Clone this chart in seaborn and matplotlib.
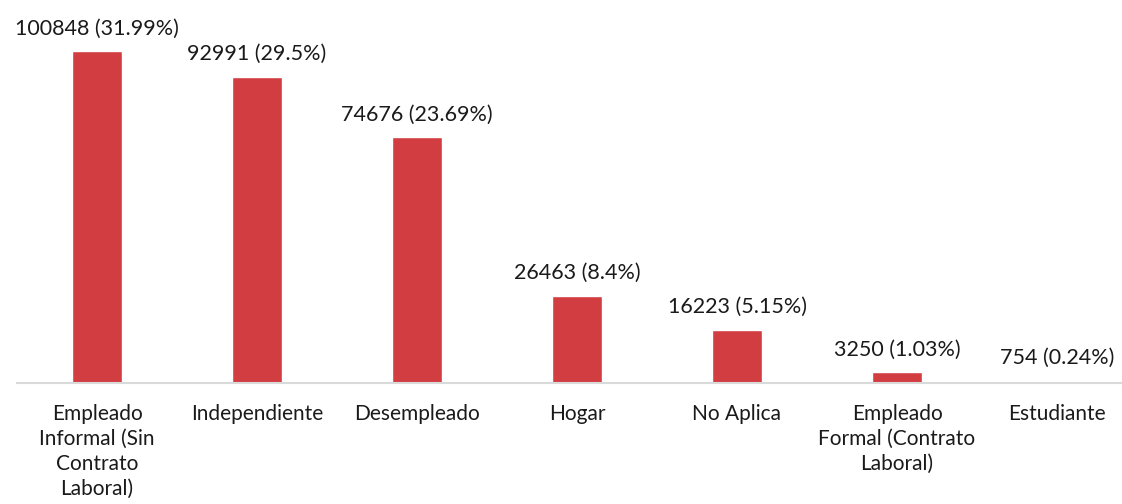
import matplotlib
matplotlib.use("Agg")
import pandas as pd
import seaborn as sns
import matplotlib.pyplot as plt

# ---------------------------------------------------------------------
# Data
# ---------------------------------------------------------------------
categorias = [
    "Empleado\nInformal (Sin\nContrato\nLaboral)",
    "Independiente",
    "Desempleado",
    "Hogar",
    "No Aplica",
    "Empleado\nFormal (Contrato\nLaboral)",
    "Estudiante",
]
conteos = [100848, 92991, 74676, 26463, 16223, 3250, 754]
porcentajes = ["31.99%", "29.5%", "23.69%", "8.4%", "5.15%", "1.03%", "0.24%"]

df = pd.DataFrame({"categoria": categorias, "conteo": conteos})

# ---------------------------------------------------------------------
# Plot
# ---------------------------------------------------------------------
sns.set_theme(style="white")
plt.rcParams["font.family"] = ["Lato", "DejaVu Sans"]

fig = plt.figure(figsize=(11.22, 5.04), dpi=100)
ax = fig.add_axes([17 / 1122, 121 / 504, 1120 / 1122, 383 / 504])

sns.barplot(data=df, x="categoria", y="conteo", color="#D13D40",
            saturation=1, width=0.31, ax=ax)

etiquetas = [f"{c} ({p})" for c, p in zip(conteos, porcentajes)]
ax.bar_label(ax.containers[0], labels=etiquetas, padding=9,
             fontsize=15.5, color="#1a1a1a")

ax.set_xlim(-0.5, 6.5)
ax.set_ylim(0, 116300)
ax.set_xlabel("")
ax.set_ylabel("")
ax.set_yticks([])
ax.tick_params(axis="x", length=0, pad=15, labelsize=15, labelcolor="#1a1a1a")
for lbl in ax.get_xticklabels():
    lbl.set_linespacing(1.32)

for s in ["top", "right", "left"]:
    ax.spines[s].set_visible(False)
ax.spines["bottom"].set_color("#D9D9D9")
ax.spines["bottom"].set_linewidth(1.5)

fig.savefig("out.png", dpi=100)
